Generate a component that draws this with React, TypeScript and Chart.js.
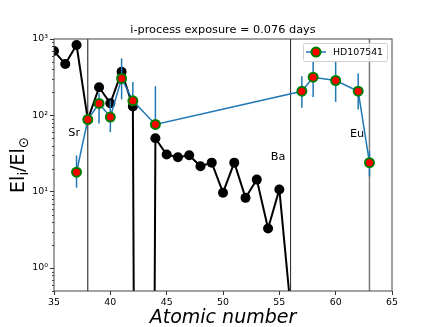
import React, { useEffect, useRef } from 'react';
import { Chart, registerables } from 'chart.js';
Chart.register(...registerables);

const titleText = 'i-process exposure = 0.076 days';
const xLabel = 'Atomic number';
const legendLabel = 'HD107541';

const modelZ = [35, 36, 37, 38, 39, 40, 41, 42, 43, 44, 45, 46, 47, 48, 49, 50, 51, 52, 53, 54, 55, 56];
const modelVals = [695, 470, 835, 88, 233, 144, 371, 131, 1e-30, 50, 30.7, 28.3, 30, 21.5, 24, 9.7, 24, 8.3, 14.4, 3.3, 10.7, 0.3];

const obsZ = [37, 38, 39, 40, 41, 42, 44, 57, 58, 60, 62, 63];
const obsVals = [18, 88, 143, 95, 304, 155, 76, 207, 316, 286, 207, 24];
const obsLo = [11.3, 88, 78, 60, 162, 155, 76, 126, 174, 150, 119, 15.8];
const obsHi = [29.8, 88, 195, 157, 557, 274, 241, 326, 502, 502, 354, 34];

const xTickVals = [35, 40, 45, 50, 55, 60, 65];
const yTickVals = [1, 10, 100, 1000];
const yTickLabels = ['10⁰', '10¹', '10²', '10³'];

const vlineZ = [38, 56, 63];
const annoText = ['Sr', 'Ba', 'Eu'];
const annoZ = [36.8, 54.9, 61.9];
const annoVal = [58, 28, 56];

const FONT = '"DejaVu Sans"';
const BLUE = '#1f77b4';

const extras = {
  id: 'extras',
  beforeDatasetsDraw(chart: any) {
    const { ctx, chartArea: a, scales } = chart;
    const x = scales.x;
    const colors = ['#111', '#222', '#777'];
    const widths = [1, 1, 1.5];
    ctx.save();
    ctx.beginPath();
    ctx.rect(a.left, a.top, a.width, a.height);
    ctx.clip();
    vlineZ.forEach((z, i) => {
      const px = x.getPixelForValue(z);
      ctx.strokeStyle = colors[i];
      ctx.lineWidth = widths[i];
      ctx.beginPath();
      ctx.moveTo(px, a.top);
      ctx.lineTo(px, a.bottom);
      ctx.stroke();
    });
    ctx.restore();
  },
  beforeDatasetDraw(chart: any, args: any) {
    if (args.index !== 0) return;
    const { ctx, chartArea: a, scales } = chart;
    const x = scales.x, y = scales.y;
    ctx.save();
    ctx.beginPath();
    ctx.rect(a.left, a.top, a.width, a.height);
    ctx.clip();
    ctx.strokeStyle = BLUE;
    ctx.lineWidth = 1.5;
    obsZ.forEach((z, i) => {
      if (obsLo[i] === obsHi[i]) return;
      const px = x.getPixelForValue(z);
      ctx.beginPath();
      ctx.moveTo(px, y.getPixelForValue(obsLo[i]));
      ctx.lineTo(px, y.getPixelForValue(obsHi[i]));
      ctx.stroke();
    });
    ctx.restore();
  },
  afterDatasetsDraw(chart: any) {
    const { ctx, chartArea: a, scales } = chart;
    const x = scales.x, y = scales.y;
    ctx.save();
    ctx.fillStyle = '#000';
    ctx.font = `11.3px ${FONT}`;
    ctx.textAlign = 'center';
    ctx.textBaseline = 'middle';
    annoText.forEach((t, i) => {
      ctx.fillText(t, x.getPixelForValue(annoZ[i]), y.getPixelForValue(annoVal[i]));
    });
    // legend
    const w = 84, h = 18;
    const bx = a.right - 5 - w, by = a.top + 4;
    ctx.fillStyle = 'rgba(255,255,255,0.8)';
    ctx.strokeStyle = '#d0d0d0';
    ctx.lineWidth = 1;
    ctx.beginPath();
    (ctx as any).roundRect(bx + 0.5, by + 0.5, w, h, 2);
    ctx.fill();
    ctx.stroke();
    const ly = by + 9;
    ctx.strokeStyle = BLUE;
    ctx.lineWidth = 1.5;
    ctx.beginPath();
    ctx.moveTo(bx + 3, ly);
    ctx.lineTo(bx + 23, ly);
    ctx.stroke();
    ctx.beginPath();
    ctx.arc(bx + 13, ly, 4.5, 0, Math.PI * 2);
    ctx.fillStyle = 'red';
    ctx.fill();
    ctx.strokeStyle = 'green';
    ctx.lineWidth = 2;
    ctx.stroke();
    ctx.fillStyle = '#000';
    ctx.font = `9.4px ${FONT}`;
    ctx.textAlign = 'left';
    ctx.textBaseline = 'middle';
    ctx.fillText(chart.data.datasets[0].label, bx + 30, ly + 0.5);
    ctx.restore();
  },
  afterDraw(chart: any) {
    const { ctx, chartArea: a, scales } = chart;
    const y = scales.y;
    ctx.save();
    // spines
    ctx.strokeStyle = '#444';
    ctx.lineWidth = 1;
    ctx.strokeRect(a.left, a.top, a.right - a.left, a.bottom - a.top);
    // minor ticks on y
    ctx.beginPath();
    for (let d = -1; d <= 2; d++) {
      for (let m = 2; m <= 9; m++) {
        const v = m * Math.pow(10, d);
        if (v < 0.5 || v > 1000) continue;
        const py = Math.round(y.getPixelForValue(v)) + 0.5;
        ctx.moveTo(a.left - 2, py);
        ctx.lineTo(a.left, py);
      }
    }
    ctx.stroke();
    // title
    ctx.fillStyle = '#000';
    ctx.font = `11.3px ${FONT}`;
    ctx.textAlign = 'center';
    ctx.textBaseline = 'alphabetic';
    ctx.fillText(titleText, (a.left + a.right) / 2, 33);
    // x label
    ctx.font = `italic 19px ${FONT}`;
    ctx.fillText(xLabel, (a.left + a.right) / 2, 323);
    // y label with subscripts
    const big = `19px ${FONT}`, small = `13.3px ${FONT}`;
    const parts = [
      { t: 'El', f: big, dy: 0 },
      { t: 'i', f: small, dy: 4 },
      { t: '/El', f: big, dy: 0 },
      { t: '⊙', f: small, dy: 4 },
    ];
    let total = 0;
    const widths = parts.map((p) => {
      ctx.font = p.f;
      const wd = ctx.measureText(p.t).width;
      total += wd;
      return wd;
    });
    ctx.translate(24, (a.top + a.bottom) / 2);
    ctx.rotate(-Math.PI / 2);
    ctx.textAlign = 'left';
    let cx = -total / 2;
    parts.forEach((p, i) => {
      ctx.font = p.f;
      ctx.fillText(p.t, cx, p.dy);
      cx += widths[i];
    });
    ctx.restore();
  },
};

export default function App() {
  const ref = useRef<HTMLCanvasElement>(null);
  useEffect(() => {
    if (!ref.current) return;
    Chart.defaults.font.family = FONT;
    const chart = new Chart(ref.current, {
      type: 'line',
      data: {
        datasets: [
          {
            label: legendLabel,
            data: obsZ.map((z, i) => ({ x: z, y: obsVals[i] })),
            borderColor: BLUE,
            borderWidth: 1.5,
            pointRadius: 4.5,
            pointBackgroundColor: 'red',
            pointBorderColor: 'green',
            pointBorderWidth: 2,
            fill: false,
            tension: 0,
            order: 0,
          },
          {
            label: 'model',
            data: modelZ.map((z, i) => ({ x: z, y: modelVals[i] })),
            borderColor: '#000',
            borderWidth: 2,
            pointRadius: 5,
            pointBackgroundColor: '#000',
            pointBorderColor: '#000',
            pointBorderWidth: 0,
            fill: false,
            tension: 0,
            order: 1,
          },
        ],
      },
      options: {
        responsive: false,
        animation: false,
        devicePixelRatio: 1,
        layout: { padding: { top: 39, right: 44, left: 0, bottom: 0 } },
        plugins: {
          legend: { display: false },
          tooltip: { enabled: false },
          title: { display: false },
        },
        scales: {
          x: {
            type: 'linear',
            min: 35,
            max: 65,
            afterBuildTicks: (s: any) => {
              s.ticks = xTickVals.map((v) => ({ value: v }));
            },
            afterFit: (s: any) => {
              s.height = 36;
            },
            ticks: { color: '#000', font: { size: 9.4 }, padding: 2, maxRotation: 0 },
            grid: { drawOnChartArea: false, drawTicks: true, tickLength: 4, tickColor: '#333' },
            border: { display: false },
          },
          y: {
            type: 'logarithmic',
            min: 0.5,
            max: 1000,
            afterBuildTicks: (s: any) => {
              s.ticks = yTickVals.map((v) => ({ value: v }));
            },
            afterFit: (s: any) => {
              s.width = 54;
            },
            ticks: {
              color: '#000',
              font: { size: 9.4 },
              padding: 2,
              callback: (v: any) => {
                const i = yTickVals.indexOf(Number(v));
                return i >= 0 ? yTickLabels[i] : '';
              },
            },
            grid: { drawOnChartArea: false, drawTicks: true, tickLength: 4, tickColor: '#333' },
            border: { display: false },
          },
        },
      },
      plugins: [extras],
    } as any);
    return () => chart.destroy();
  }, []);
  return (
    <div style={{ position: 'absolute', left: 0, top: 0, width: 436, height: 327, background: '#fff' }}>
      <canvas ref={ref} width={436} height={327} style={{ width: 436, height: 327 }} />
    </div>
  );
}
